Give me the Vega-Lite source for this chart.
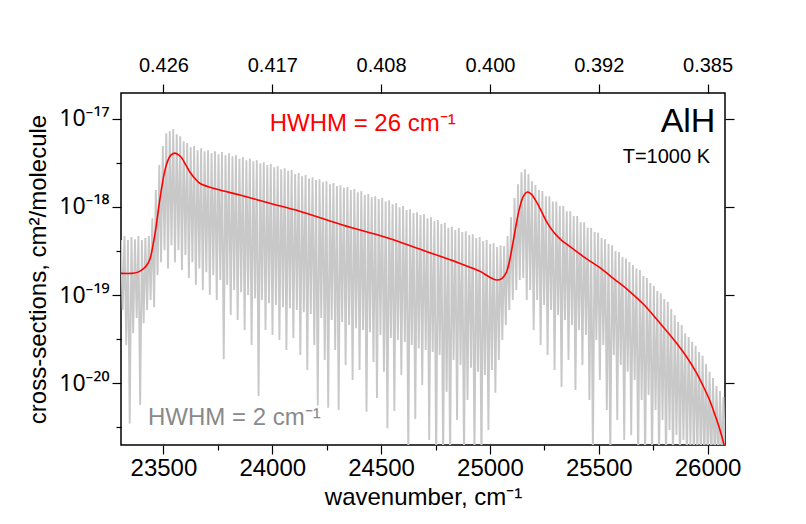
{
"$schema": "https://vega.github.io/schema/vega-lite/v6.json",
"width": 604, "height": 352,
"autosize": {"type": "none"},
"padding": {"left": 121, "top": 93, "right": 81, "bottom": 79},
"background": "white",
"config": {"view": {"stroke": "black", "strokeWidth": 1.5}, "font": "Liberation Sans",
 "axis": {"domain": false, "grid": false, "tickColor": "black", "tickWidth": 1.2, "labelColor": "black", "titleColor": "black", "labelFont": "Liberation Sans", "titleFont": "Liberation Sans", "titleFontWeight": "normal"}},
"datasets": {
"g": [
{"w":23305,"c":4.2e-19},{"w":23313,"c":6.77e-20},{"w":23321,"c":4.66e-19},{"w":23329,"c":2.72e-20},{"w":23337,"c":4.2e-19},{"w":23345,"c":3.5e-21},{"w":23353,"c":4.55e-19},{"w":23361,"c":3.7e-20},{"w":23369,"c":4.3e-19},{"w":23377,"c":5.5e-20},{"w":23385,"c":4.66e-19},{"w":23393,"c":5.69e-21},{"w":23401,"c":4.2e-19},{"w":23409,"c":4.8e-20},{"w":23417,"c":4.43e-19},{"w":23425,"c":6.77e-20},{"w":23433,"c":4.66e-19},{"w":23441,"c":8.78e-20},{"w":23449,"c":7.4e-19},{"w":23457,"c":7.3e-20},
{"w":23465,"c":1.55e-18},{"w":23473,"c":1.68e-19},{"w":23481,"c":2.97e-18},{"w":23489,"c":2.35e-19},{"w":23497,"c":4.9e-18},{"w":23505,"c":3.23e-19},{"w":23513,"c":6.8e-18},{"w":23521,"c":2.0e-19},{"w":23529,"c":7.2e-18},{"w":23537,"c":3.68e-19},{"w":23545,"c":7.6e-18},{"w":23553,"c":2.35e-19},{"w":23561,"c":6.65e-18},{"w":23569,"c":3.23e-19},{"w":23577,"c":6.3e-18},{"w":23585,"c":1.92e-19},{"w":23593,"c":5.55e-18},{"w":23601,"c":2.84e-19},{"w":23609,"c":5.3e-18},{"w":23617,"c":1.56e-19},
{"w":23625,"c":4.75e-18},{"w":23633,"c":2.35e-19},{"w":23641,"c":4.9e-18},{"w":23649,"c":1.3e-19},{"w":23657,"c":4.39e-18},{"w":23665,"c":2.0e-19},{"w":23673,"c":4.6e-18},{"w":23681,"c":1.14e-19},{"w":23689,"c":4.27e-18},{"w":23697,"c":1.82e-19},{"w":23705,"c":4.39e-18},{"w":23713,"c":1.0e-19},{"w":23721,"c":4.06e-18},{"w":23729,"c":1.68e-19},{"w":23737,"c":4.27e-18},{"w":23745,"c":8.78e-20},{"w":23753,"c":3.95e-18},{"w":23761,"c":1.48e-19},{"w":23769,"c":4.17e-18},{"w":23777,"c":1.88e-20},
{"w":23785,"c":3.85e-18},{"w":23793,"c":1.3e-19},{"w":23801,"c":4.06e-18},{"w":23809,"c":5.94e-20},{"w":23817,"c":3.75e-18},{"w":23825,"c":1.14e-19},{"w":23833,"c":3.85e-18},{"w":23841,"c":5.21e-20},{"w":23849,"c":3.5e-18},{"w":23857,"c":1.08e-19},{"w":23865,"c":3.65e-18},{"w":23873,"c":4.02e-20},{"w":23881,"c":3.38e-18},{"w":23889,"c":1.0e-19},{"w":23897,"c":3.5e-18},{"w":23905,"c":2.72e-20},{"w":23913,"c":3.29e-18},{"w":23921,"c":9.2e-20},{"w":23929,"c":3.38e-18},{"w":23937,"c":7.2e-21},
{"w":23945,"c":3.1e-18},{"w":23953,"c":8.78e-20},{"w":23961,"c":3.2e-18},{"w":23969,"c":4.02e-20},{"w":23977,"c":2.97e-18},{"w":23985,"c":8.1e-20},{"w":23993,"c":3.05e-18},{"w":24001,"c":3.53e-20},{"w":24009,"c":2.8e-18},{"w":24017,"c":7.71e-20},{"w":24025,"c":2.88e-18},{"w":24033,"c":3.1e-20},{"w":24041,"c":2.67e-18},{"w":24049,"c":7.3e-20},{"w":24057,"c":2.74e-18},{"w":24065,"c":2.38e-20},{"w":24073,"c":2.56e-18},{"w":24081,"c":7.1e-20},{"w":24089,"c":2.61e-18},{"w":24097,"c":3.27e-20},
{"w":24105,"c":2.36e-18},{"w":24113,"c":6.77e-20},{"w":24121,"c":2.42e-18},{"w":24129,"c":2.09e-20},{"w":24137,"c":2.22e-18},{"w":24145,"c":6.4e-20},{"w":24153,"c":2.29e-18},{"w":24161,"c":1.42e-20},{"w":24169,"c":2.1e-18},{"w":24177,"c":6.1e-20},{"w":24185,"c":2.17e-18},{"w":24193,"c":2.72e-20},{"w":24201,"c":2.01e-18},{"w":24209,"c":5.6e-21},{"w":24217,"c":2.06e-18},{"w":24225,"c":5.5e-20},{"w":24233,"c":1.9e-18},{"w":24241,"c":1.84e-20},{"w":24249,"c":1.95e-18},{"w":24257,"c":5.3e-21},
{"w":24265,"c":1.8e-18},{"w":24273,"c":5.21e-20},{"w":24281,"c":1.86e-18},{"w":24289,"c":2.38e-20},{"w":24297,"c":1.72e-18},{"w":24305,"c":4.99e-21},{"w":24313,"c":1.76e-18},{"w":24321,"c":4.95e-20},{"w":24329,"c":1.64e-18},{"w":24337,"c":1.61e-20},{"w":24345,"c":1.68e-18},{"w":24353,"c":4.57e-20},{"w":24361,"c":1.55e-18},{"w":24369,"c":1.09e-20},{"w":24377,"c":1.59e-18},{"w":24385,"c":4.2e-20},{"w":24393,"c":1.46e-18},{"w":24401,"c":1.42e-20},{"w":24409,"c":1.51e-18},{"w":24417,"c":4.02e-20},
{"w":24425,"c":1.36e-18},{"w":24433,"c":4.75e-21},{"w":24441,"c":1.4e-18},{"w":24449,"c":3.8e-20},{"w":24457,"c":1.28e-18},{"w":24465,"c":1.75e-20},{"w":24473,"c":1.32e-18},{"w":24481,"c":6.8e-21},{"w":24489,"c":1.23e-18},{"w":24497,"c":3.53e-20},{"w":24505,"c":1.26e-18},{"w":24513,"c":1.35e-20},{"w":24521,"c":1.15e-18},{"w":24529,"c":3.1e-21},{"w":24537,"c":1.19e-18},{"w":24545,"c":3.27e-20},{"w":24553,"c":1.07e-18},{"w":24561,"c":4.85e-21},{"w":24569,"c":1.1e-18},{"w":24577,"c":3.1e-20},
{"w":24585,"c":9.9e-19},{"w":24593,"c":1.24e-20},{"w":24601,"c":1.02e-18},{"w":24609,"c":2.95e-20},{"w":24617,"c":9.18e-19},{"w":24625,"c":1.5e-21},{"w":24633,"c":9.4e-19},{"w":24641,"c":2.72e-20},{"w":24649,"c":8.5e-19},{"w":24657,"c":3.95e-21},{"w":24665,"c":8.7e-19},{"w":24673,"c":2.5e-20},{"w":24681,"c":8.06e-19},{"w":24689,"c":9.57e-21},{"w":24697,"c":8.3e-19},{"w":24705,"c":2.38e-20},{"w":24713,"c":7.4e-19},{"w":24721,"c":2.28e-21},{"w":24729,"c":7.6e-19},{"w":24737,"c":2.26e-20},
{"w":24745,"c":6.9e-19},{"w":24753,"c":1.2e-21},{"w":24761,"c":7.07e-19},{"w":24769,"c":2.09e-20},{"w":24777,"c":6.4e-19},{"w":24785,"c":1.3e-21},{"w":24793,"c":6.6e-19},{"w":24801,"c":8.0e-21},{"w":24809,"c":5.8e-19},{"w":24817,"c":1.2e-21},{"w":24825,"c":5.95e-19},{"w":24833,"c":1.84e-20},{"w":24841,"c":5.45e-19},{"w":24849,"c":3.85e-21},{"w":24857,"c":5.75e-19},{"w":24865,"c":1.61e-20},{"w":24873,"c":5.2e-19},{"w":24881,"c":1.3e-21},{"w":24889,"c":5.3e-19},{"w":24897,"c":6.48e-21},
{"w":24905,"c":4.78e-19},{"w":24913,"c":1.5e-20},{"w":24921,"c":4.9e-19},{"w":24929,"c":1.5e-21},{"w":24937,"c":4.43e-19},{"w":24945,"c":1.35e-20},{"w":24953,"c":4.55e-19},{"w":24961,"c":1.2e-21},{"w":24969,"c":4.1e-19},{"w":24977,"c":1.24e-20},{"w":24985,"c":4.2e-19},{"w":24993,"c":2.96e-21},{"w":25001,"c":3.78e-19},{"w":25009,"c":1.42e-20},{"w":25017,"c":3.87e-19},{"w":25025,"c":7.8e-21},{"w":25033,"c":3.5e-19},{"w":25041,"c":1.84e-20},{"w":25049,"c":3.68e-19},{"w":25057,"c":3.1e-20},
{"w":25065,"c":3.6e-19},{"w":25073,"c":4.57e-20},{"w":25081,"c":4.66e-19},{"w":25089,"c":6.77e-20},{"w":25097,"c":7.6e-19},{"w":25105,"c":8.78e-20},{"w":25113,"c":1.26e-18},{"w":25121,"c":1.14e-19},{"w":25129,"c":1.8e-18},{"w":25137,"c":1.48e-19},{"w":25145,"c":2.47e-18},{"w":25153,"c":1.56e-19},{"w":25161,"c":2.67e-18},{"w":25169,"c":8.78e-20},{"w":25177,"c":2.36e-18},{"w":25185,"c":1.14e-19},{"w":25193,"c":1.95e-18},{"w":25201,"c":4.02e-20},{"w":25209,"c":1.76e-18},{"w":25217,"c":8.78e-20},
{"w":25225,"c":1.55e-18},{"w":25233,"c":2.72e-20},{"w":25241,"c":1.51e-18},{"w":25249,"c":7.71e-20},{"w":25257,"c":1.32e-18},{"w":25265,"c":2.09e-20},{"w":25273,"c":1.32e-18},{"w":25281,"c":6.77e-20},{"w":25289,"c":1.15e-18},{"w":25297,"c":1.42e-20},{"w":25305,"c":1.15e-18},{"w":25313,"c":5.94e-20},{"w":25321,"c":1.02e-18},{"w":25329,"c":9.1e-21},{"w":25337,"c":1.02e-18},{"w":25345,"c":5.21e-20},{"w":25353,"c":8.9e-19},{"w":25361,"c":1.84e-20},{"w":25369,"c":8.9e-19},{"w":25377,"c":4.57e-20},
{"w":25385,"c":7.85e-19},{"w":25393,"c":8.41e-21},{"w":25401,"c":7.85e-19},{"w":25409,"c":4.02e-20},{"w":25417,"c":6.7e-19},{"w":25425,"c":1.61e-20},{"w":25433,"c":6.7e-19},{"w":25441,"c":3.53e-20},{"w":25449,"c":5.8e-19},{"w":25457,"c":6.48e-21},{"w":25465,"c":5.75e-19},{"w":25473,"c":1.5e-21},{"w":25481,"c":5.2e-19},{"w":25489,"c":3.1e-20},{"w":25497,"c":5.1e-19},{"w":25505,"c":1.09e-20},{"w":25513,"c":4.43e-19},{"w":25521,"c":2.72e-20},{"w":25529,"c":4.3e-19},{"w":25537,"c":4.99e-21},
{"w":25545,"c":3.78e-19},{"w":25553,"c":1.3e-21},{"w":25561,"c":3.68e-19},{"w":25569,"c":2.09e-20},{"w":25577,"c":3.15e-19},{"w":25585,"c":3.85e-21},{"w":25593,"c":3.07e-19},{"w":25601,"c":1.61e-20},{"w":25609,"c":2.7e-19},{"w":25617,"c":2.28e-21},{"w":25625,"c":2.6e-19},{"w":25633,"c":1.35e-20},{"w":25641,"c":2.37e-19},{"w":25649,"c":2.6e-21},{"w":25657,"c":2.19e-19},{"w":25665,"c":1.09e-20},{"w":25673,"c":2.0e-19},{"w":25681,"c":1.2e-21},{"w":25689,"c":1.92e-19},{"w":25697,"c":6.48e-21},
{"w":25705,"c":1.65e-19},{"w":25713,"c":1.2e-21},{"w":25721,"c":1.56e-19},{"w":25729,"c":7.38e-21},{"w":25737,"c":1.37e-19},{"w":25745,"c":1.2e-21},{"w":25753,"c":1.27e-19},{"w":25761,"c":4.99e-21},{"w":25769,"c":1.11e-19},{"w":25777,"c":1.2e-21},{"w":25785,"c":1.05e-19},{"w":25793,"c":3.85e-21},{"w":25801,"c":9.0e-20},{"w":25809,"c":1.2e-21},{"w":25817,"c":8.4e-20},{"w":25825,"c":2.96e-21},{"w":25833,"c":6.95e-20},{"w":25841,"c":1.2e-21},{"w":25849,"c":5.94e-20},{"w":25857,"c":2.6e-21},
{"w":25865,"c":4.95e-20},{"w":25873,"c":1.2e-21},{"w":25881,"c":4.57e-20},{"w":25889,"c":2.28e-21},{"w":25897,"c":3.7e-20},{"w":25905,"c":1.2e-21},{"w":25913,"c":3.35e-20},{"w":25921,"c":2.0e-21},{"w":25929,"c":2.95e-20},{"w":25937,"c":1.2e-21},{"w":25945,"c":2.66e-20},{"w":25953,"c":1.5e-21},{"w":25961,"c":2.26e-20},{"w":25969,"c":1.2e-21},{"w":25977,"c":2.05e-20},{"w":25985,"c":1.2e-21},{"w":25993,"c":1.65e-20},{"w":26001,"c":1.2e-21},{"w":26009,"c":1.35e-20},{"w":26017,"c":1.2e-21},
{"w":26025,"c":1.15e-20},{"w":26033,"c":1.2e-21},{"w":26041,"c":9.3e-21},{"w":26049,"c":1.2e-21},{"w":26057,"c":8.2e-21},{"w":26065,"c":1.2e-21},{"w":26073,"c":7.0e-21},{"w":26081,"c":1.2e-21}
],
"r": [
{"w":23305,"c":1.76e-19},{"w":23355,"c":1.76e-19},{"w":23383,"c":1.82e-19},{"w":23406,"c":1.97e-19},{"w":23424,"c":2.19e-19},{"w":23438,"c":2.56e-19},{"w":23452,"c":3.68e-19},{"w":23466,"c":5.89e-19},{"w":23479,"c":1.02e-18},{"w":23493,"c":1.71e-18},{"w":23507,"c":2.61e-18},{"w":23521,"c":3.38e-18},{"w":23534,"c":3.85e-18},{"w":23553,"c":4.06e-18},{"w":23571,"c":3.85e-18},{"w":23585,"c":3.56e-18},{"w":23603,"c":2.97e-18},{"w":23622,"c":2.47e-18},{"w":23644,"c":2.11e-18},{"w":23667,"c":1.85e-18},{"w":23713,"c":1.67e-18},{"w":23759,"c":1.55e-18},{"w":23851,"c":1.36e-18},{"w":23988,"c":1.1e-18},{"w":24126,"c":8.93e-19},{"w":24323,"c":6.21e-19},{"w":24516,"c":4.54e-19},{"w":24677,"c":3.32e-19},{"w":24860,"c":2.3e-19},{"w":24952,"c":1.87e-19},{"w":24998,"c":1.6e-19},{"w":25030,"c":1.48e-19},{"w":25057,"c":1.56e-19},{"w":25076,"c":1.82e-19},{"w":25089,"c":2.37e-19},{"w":25103,"c":3.59e-19},{"w":25117,"c":5.58e-19},{"w":25135,"c":9.42e-19},{"w":25154,"c":1.32e-18},{"w":25172,"c":1.47e-18},{"w":25190,"c":1.39e-18},{"w":25209,"c":1.19e-18},{"w":25227,"c":9.93e-19},{"w":25245,"c":8.06e-19},{"w":25264,"c":6.53e-19},{"w":25296,"c":5.04e-19},{"w":25328,"c":4.2e-19},{"w":25365,"c":3.59e-19},{"w":25433,"c":2.69e-19},{"w":25502,"c":2.07e-19},{"w":25571,"c":1.52e-19},{"w":25640,"c":1.11e-19},{"w":25709,"c":7.71e-20},{"w":25777,"c":4.94e-20},{"w":25846,"c":3.1e-20},{"w":25901,"c":2.04e-20},{"w":25947,"c":1.34e-20},{"w":25984,"c":8.85e-21},{"w":26011,"c":6.31e-21},{"w":26034,"c":4.38e-21},{"w":26057,"c":2.96e-21},{"w":26076,"c":2.0e-21}
]
},
"layer": [
{"data": {"name": "g"},
 "mark": {"type": "line", "color": "#c8c8c8", "strokeWidth": 1.9, "clip": true},
 "encoding": {
  "x": {"field": "w", "type": "quantitative", "scale": {"domain": [23305, 26080], "nice": false, "zero": false},
   "axis": {"orient": "bottom", "values": [23500,24000,24500,25000,25500,26000], "format": "d", "labelFontSize": 24, "tickSize": 9, "labelPadding": 2, "title": "wavenumber, cm⁻¹", "titleFontSize": 24, "titlePadding": 5}},
  "y": {"field": "c", "type": "quantitative", "scale": {"type": "log", "domain": [2e-21, 1.95e-17], "nice": false},
   "axis": {"orient": "left", "values": [1e-20,1e-19,1e-18,1e-17], "labelExpr": "datum.value > 5e-18 ? '10⁻¹⁷' : datum.value > 5e-19 ? '10⁻¹⁸' : datum.value > 5e-20 ? '10⁻¹⁹' : '10⁻²⁰'", "labelFont": "Noto Sans", "labelFontSize": 23, "tickSize": 9, "labelPadding": 3, "title": "cross-sections, cm²/molecule", "titleFontSize": 24, "titlePadding": 8}}
 }},
{"data": {"name": "r"},
 "mark": {"type": "line", "color": "#ff0000", "strokeWidth": 1.6, "interpolate": "catmull-rom", "clip": true},
 "encoding": {
  "x": {"field": "w", "type": "quantitative", "scale": {"domain": [23305, 26080], "nice": false, "zero": false},
   "axis": {"orient": "bottom", "values": [23750,24250,24750,25250,25750], "labels": false, "tickSize": 5, "title": null}},
  "y": {"field": "c", "type": "quantitative", "scale": {"type": "log", "domain": [2e-21, 1.95e-17], "nice": false},
   "axis": {"orient": "left", "values": [3.162e-21,3.162e-20,3.162e-19,3.162e-18], "labels": false, "tickSize": 5, "title": null}}
 }},
{"data": {"values": [{"w": 23988, "c": 8.6e-18, "label": "HWHM = 26 cm⁻¹"}]},
 "mark": {"type": "text", "color": "#ff0000", "fontSize": 24, "align": "left", "baseline": "middle", "font": "Liberation Sans"},
 "encoding": {
  "x": {"field": "w", "type": "quantitative", "scale": {"domain": [23305, 26080], "nice": false, "zero": false},
   "axis": {"orient": "top", "values": [23500,24000,24500,25000,25500,26000], "labelExpr": "format(10000/datum.value, '.3f')", "labelFontSize": 20, "tickSize": 9, "labelPadding": 9, "title": null}},
  "y": {"field": "c", "type": "quantitative", "scale": {"type": "log", "domain": [2e-21, 1.95e-17], "nice": false},
   "axis": {"orient": "right", "values": [1e-20,1e-19,1e-18,1e-17], "labels": false, "tickSize": 9, "title": null}},
  "text": {"field": "label"}
 }},
{"data": {"values": [{"w": 26036, "c": 9.1e-18, "label": "AlH"}]},
 "mark": {"type": "text", "color": "black", "fontSize": 34, "align": "right", "baseline": "middle", "font": "Liberation Sans"},
 "encoding": {
  "x": {"field": "w", "type": "quantitative", "axis": null},
  "y": {"field": "c", "type": "quantitative", "axis": null},
  "text": {"field": "label"}
 }},
{"data": {"values": [{"w": 26011, "c": 3.66e-18, "label": "T=1000 K"}]},
 "mark": {"type": "text", "color": "black", "fontSize": 20, "align": "right", "baseline": "middle", "font": "Liberation Sans"},
 "encoding": {
  "x": {"field": "w", "type": "quantitative", "axis": null},
  "y": {"field": "c", "type": "quantitative", "axis": null},
  "text": {"field": "label"}
 }},
{"data": {"values": [{"w": 23429, "c": 4.0e-21, "label": "HWHM = 2 cm⁻¹"}]},
 "mark": {"type": "text", "color": "#8a8a8a", "fontSize": 24, "align": "left", "baseline": "middle", "font": "Liberation Sans"},
 "encoding": {
  "x": {"field": "w", "type": "quantitative", "axis": null},
  "y": {"field": "c", "type": "quantitative", "axis": null},
  "text": {"field": "label"}
 }}
],
"resolve": {"axis": {"x": "independent", "y": "independent"}}
}
